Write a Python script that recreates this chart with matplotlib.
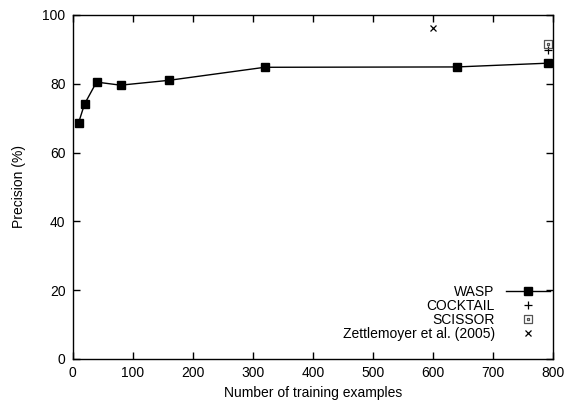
import matplotlib
matplotlib.use("Agg")
import matplotlib.pyplot as plt
from matplotlib.path import Path

plt.rcParams['font.family'] = ['Liberation Sans', 'DejaVu Sans']

wasp_x = [10, 20, 40, 80, 160, 320, 640, 792]
wasp_y = [68.6, 74.1, 80.5, 79.6, 81.0, 84.8, 84.9, 86.0]
cocktail_x = [792]
cocktail_y = [89.9]
scissor_x = [792]
scissor_y = [91.5]
zettle_x = [600]
zettle_y = [96.25]
xticks = [0, 100, 200, 300, 400, 500, 600, 700, 800]
yticks = [0, 20, 40, 60, 80, 100]

fs = 10
fig = plt.figure(figsize=(5.66, 4.04), dpi=100)
ax = fig.add_axes([72.5/566, 1-359/404, (553-72.5)/566, (359-15)/404])

ax.plot(wasp_x, wasp_y, color='black', lw=1.0, marker='s', ms=6,
        markerfacecolor='black', markeredgecolor='black', label='WASP')
ax.plot(cocktail_x, cocktail_y, ls='none', marker='+', ms=6, color='black',
        mew=0.9, label='COCKTAIL')
box = Path([(-1, -1), (1, -1), (1, 1), (-1, 1), (-1, -1),
            (-0.2, -0.2), (0.2, -0.2), (0.2, 0.2), (-0.2, 0.2), (-0.2, -0.2)],
           [Path.MOVETO, Path.LINETO, Path.LINETO, Path.LINETO, Path.CLOSEPOLY,
            Path.MOVETO, Path.LINETO, Path.LINETO, Path.LINETO, Path.CLOSEPOLY])
ax.plot(scissor_x, scissor_y, ls='none', marker=box, ms=6, color='#555555',
        markerfacecolor='none', mew=0.9, label='SCISSOR')
ax.plot(zettle_x, zettle_y, ls='none', marker='x', ms=5, color='black',
        mew=0.9, label='Zettlemoyer et al. (2005)')

ax.set_xlim(0, 800)
ax.set_ylim(0, 100)
ax.set_xticks(xticks)
ax.set_yticks(yticks)
ax.tick_params(direction='in', top=True, right=True, length=5, width=1,
               labelsize=fs, pad=5)
for s in ax.spines.values():
    s.set_linewidth(1.0)
ax.set_xlabel('Number of training examples', fontsize=fs, labelpad=4)
ax.set_ylabel('Precision (%)', fontsize=fs, labelpad=12)

leg = ax.legend(loc='lower right', frameon=False, markerfirst=False,
                fontsize=fs, handlelength=3.2, handletextpad=0.8,
                labelspacing=0.0, borderaxespad=0.0, bbox_to_anchor=(1.006, 0.036))
for t in leg.get_texts():
    t.set_ha('right')
leg._legend_box.align = 'right'

fig.savefig('out.png', dpi=100)
